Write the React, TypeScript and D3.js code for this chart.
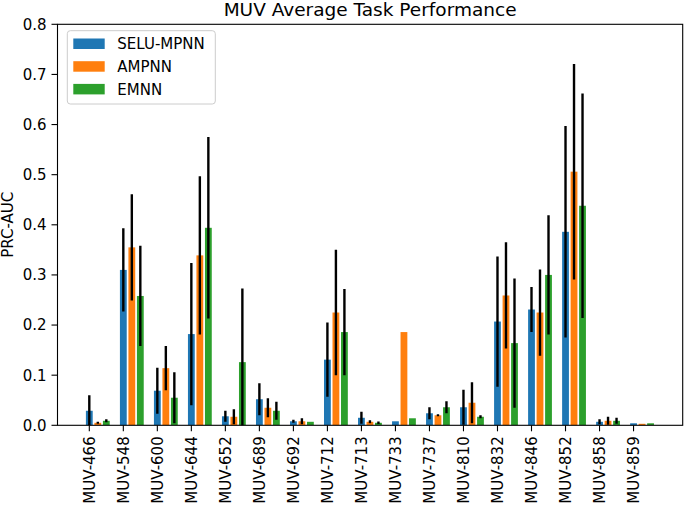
import React from 'react';
import * as d3 from 'd3';

const categories = ['MUV-466','MUV-548','MUV-600','MUV-644','MUV-652','MUV-689','MUV-692','MUV-712','MUV-713','MUV-733','MUV-737','MUV-810','MUV-832','MUV-846','MUV-852','MUV-858','MUV-859'];
const seriesNames = ['SELU-MPNN', 'AMPNN', 'EMNN'];
const seriesColors = ['#1f77b4', '#ff7f0e', '#2ca02c'];

const seluMean = [0.029, 0.310, 0.069, 0.182, 0.018, 0.052, 0.008, 0.131, 0.015, 0.008, 0.024, 0.036, 0.207, 0.231, 0.386, 0.007, 0.004];
const seluErr = [0.031, 0.083, 0.046, 0.142, 0.011, 0.032, 0.003, 0.074, 0.012, 0, 0.012, 0.035, 0.130, 0.045, 0.211, 0.005, 0];
const ampnnMean = [0.005, 0.355, 0.114, 0.339, 0.017, 0.035, 0.008, 0.225, 0.007, 0.186, 0.020, 0.045, 0.259, 0.225, 0.506, 0.009, 0.003];
const ampnnErr = [0.002, 0.106, 0.044, 0.158, 0.015, 0.019, 0.006, 0.125, 0.003, 0, 0.002, 0.041, 0.106, 0.086, 0.215, 0.008, 0];
const emnnMean = [0.009, 0.258, 0.055, 0.394, 0.126, 0.029, 0.007, 0.186, 0.005, 0.014, 0.036, 0.017, 0.164, 0.300, 0.438, 0.009, 0.004];
const emnnErr = [0.003, 0.100, 0.051, 0.181, 0.147, 0.018, 0, 0.086, 0.0025, 0, 0.012, 0.003, 0.129, 0.119, 0.224, 0.006, 0];

const yTicks = [0.0, 0.1, 0.2, 0.3, 0.4, 0.5, 0.6, 0.7, 0.8];

const W = 685, H = 507;
const left = 57.5, right = 682.7, top = 24.3, bottom = 425.3;
const FONT = 'DejaVu Sans, sans-serif';

export default function App() {
  const x = d3.scaleLinear().domain([-0.935, 17.445]).range([left, right]);
  const y = d3.scaleLinear().domain([0, 0.8]).range([bottom, top]);
  const means = [seluMean, ampnnMean, emnnMean];
  const errs = [seluErr, ampnnErr, emnnErr];
  const barW = 0.2;
  const step = 0.25;

  return (
    <svg width={W} height={H} style={{ position: 'absolute', left: 0, top: 0, background: '#fff' }} fontFamily={FONT}>
      <defs>
        <clipPath id="plotclip">
          <rect x={left} y={top} width={right - left} height={bottom - top} />
        </clipPath>
      </defs>
      <rect x={0} y={0} width={W} height={H} fill="#fff" />
      <g clipPath="url(#plotclip)">
        {means.map((m, s) =>
          m.map((v, i) => {
            const cx = i + s * step;
            return (
              <rect key={`b${s}-${i}`} x={x(cx - barW / 2)} y={y(v)} width={x(barW) - x(0)} height={y(0) - y(v)} fill={seriesColors[s]} />
            );
          })
        )}
        {means.map((m, s) =>
          m.map((v, i) => {
            const e = errs[s][i];
            if (!e) return null;
            const cx = i + s * step;
            return (
              <line key={`e${s}-${i}`} x1={x(cx)} x2={x(cx)} y1={y(v - e)} y2={y(v + e)} stroke="#000" strokeWidth={2.4} />
            );
          })
        )}
      </g>
      {/* axes frame */}
      <rect x={left} y={top} width={right - left} height={bottom - top} fill="none" stroke="#000" strokeWidth={1.1} />
      {/* y ticks */}
      {yTicks.map((t) => (
        <g key={`yt${t}`}>
          <line x1={left - 6} x2={left} y1={y(t)} y2={y(t)} stroke="#000" strokeWidth={1.1} />
          <text x={left - 11} y={y(t)} dy="0.36em" textAnchor="end" fontSize={15} fill="#000">{t.toFixed(1)}</text>
        </g>
      ))}
      {/* x ticks */}
      {categories.map((c, i) => (
        <g key={`xt${c}`}>
          <line x1={x(i)} x2={x(i)} y1={bottom} y2={bottom + 6} stroke="#000" strokeWidth={1.1} />
          <text transform={`translate(${x(i)},${bottom + 11}) rotate(-90)`} dy="0.36em" textAnchor="end" fontSize={15} fill="#000">{c}</text>
        </g>
      ))}
      {/* y label */}
      <text transform={`translate(13,${(top + bottom) / 2}) rotate(-90)`} textAnchor="middle" fontSize={15} fill="#000">PRC-AUC</text>
      {/* title */}
      <text x={(left + right) / 2} y={16} textAnchor="middle" fontSize={18.5} fill="#000">MUV Average Task Performance</text>
      {/* legend */}
      <rect x={67.3} y={30.7} width={148} height={73.3} rx={3} fill="#fff" fillOpacity={0.8} stroke="#cccccc" strokeWidth={1} />
      {seriesNames.map((n, s) => (
        <g key={`lg${n}`}>
          <rect x={73.3} y={38.5 + s * 22.7} width={31.4} height={10.5} fill={seriesColors[s]} />
          <text x={117.3} y={43.7 + s * 22.7} dy="0.36em" fontSize={15} fill="#000">{n}</text>
        </g>
      ))}
    </svg>
  );
}
